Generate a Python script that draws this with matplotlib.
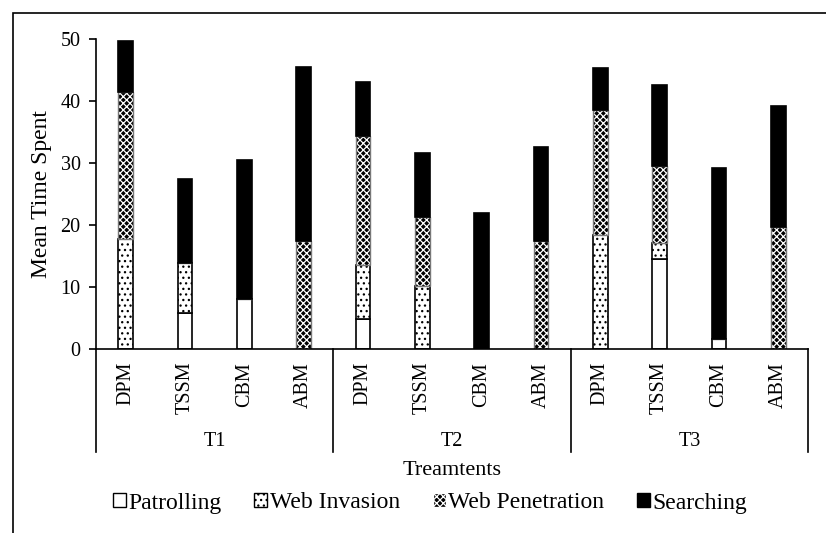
import numpy as np
import matplotlib.pyplot as plt
from matplotlib.patches import Patch, Rectangle

plt.rcParams['font.family'] = ['Liberation Serif', 'DejaVu Serif']
plt.rcParams['hatch.linewidth'] = 0.9

# data
groups = ['T1', 'T2', 'T3']
models = ['DPM', 'TSSM', 'CBM', 'ABM']
patrolling = [0, 5.8, 8.1, 0, 4.9, 0, 0, 0, 0, 14.5, 1.6, 0]
web_invasion = [17.8, 8.2, 0, 0, 8.7, 10.2, 0, 0, 18.4, 2.6, 0, 0]
web_penetration = [23.7, 0, 0, 17.5, 20.8, 11.2, 0, 17.4, 20.2, 12.4, 0, 19.8]
searching = [8.3, 13.4, 22.4, 28.0, 8.7, 10.3, 22.0, 15.2, 6.7, 13.1, 27.6, 19.4]

labels = models * len(groups)
x = np.arange(len(labels))
w = 0.25

fig = plt.figure(figsize=(8.26, 5.33), dpi=100)
ax = fig.add_axes([96/826, 1 - 349.3/533, 712/826, 310/533])

# stacked bars
bottom = np.zeros(len(x))
ax.bar(x, patrolling, w, bottom=bottom, color='white', edgecolor='black', linewidth=1.2)
bottom += patrolling
ax.bar(x, web_invasion, w, bottom=bottom, color='white', edgecolor='black', hatch='...', linewidth=0)
ax.bar(x, web_invasion, w, bottom=bottom, fill=False, edgecolor='black', linewidth=1.2)
bottom += web_invasion
ax.bar(x, web_penetration, w, bottom=bottom, color='black', edgecolor='white', hatch='xxxxx', linewidth=0)
ax.bar(x, web_penetration, w, bottom=bottom, fill=False, edgecolor='#777777', linewidth=1.0)
bottom += web_penetration
ax.bar(x, searching, w, bottom=bottom, color='black', edgecolor='black', linewidth=1.2)

ax.set_xlim(-0.5, len(x) - 0.5)
ax.set_ylim(0, 50)
ax.set_yticks([0, 10, 20, 30, 40, 50])
ax.set_xticks(x)
ax.set_xticklabels(labels, rotation=90, fontsize=14.5)
ax.tick_params(axis='x', length=0, pad=9)
ax.tick_params(axis='y', length=5, width=1.2, labelsize=14.5, direction='out', pad=6)
for s in ['top', 'right']:
    ax.spines[s].set_visible(False)
ax.spines['left'].set_linewidth(1.2)
ax.spines['bottom'].set_linewidth(1.2)

# group separators and labels below axis
tr = ax.get_xaxis_transform()
for i in range(len(groups) + 1):
    ax.plot([i * 4 - 0.5] * 2, [0, -0.331], transform=tr, color='black', lw=1.2, clip_on=False)
for i, g in enumerate(groups):
    ax.text(i * 4 + 1.5, -0.299, g, transform=tr, ha='center', va='center', fontsize=14.5)
ax.text(5.5, -0.39, 'Treamtents', transform=tr, ha='center', va='center', fontsize=16)
ax.set_ylabel('Mean Time Spent', fontsize=17, labelpad=6)

handles = [
    Patch(facecolor='white', edgecolor='black', label='Patrolling'),
    Patch(facecolor='white', edgecolor='black', hatch='...', label='Web Invasion'),
    Patch(facecolor='black', edgecolor='white', hatch='xxxxx', label='Web Penetration'),
    Patch(facecolor='black', edgecolor='black', label='Searching'),
]
fig.legend(handles=handles, loc='center', bbox_to_anchor=(430/826, 1 - 503/533), ncol=4,
           frameon=False, fontsize=17, handlelength=0.55, handleheight=0.55,
           handletextpad=0.1, columnspacing=1.4)

# outer frame
fig.add_artist(Rectangle((13/826, -0.1), 1.0, 1 - 13/533 + 0.1, transform=fig.transFigure,
                         fill=False, edgecolor='black', lw=1.2))

fig.savefig('out.png', dpi=100)
